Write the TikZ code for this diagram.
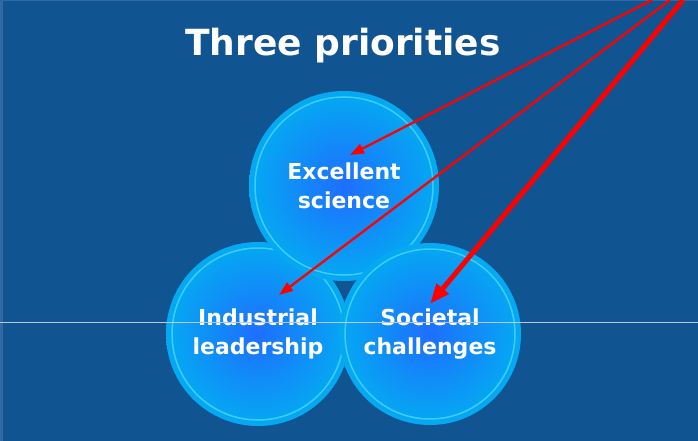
\documentclass[tikz,border=0pt]{standalone}
\usepackage{fontspec}
\setmainfont{DejaVu Sans}
\usetikzlibrary{arrows.meta,positioning}
\definecolor{prioback}{RGB}{16,84,146}
\definecolor{prioframe}{RGB}{50,105,165}
\definecolor{priocore}{RGB}{30,110,254}
\definecolor{prioedge}{RGB}{4,170,242}
\definecolor{prioring}{RGB}{60,205,252}
\definecolor{priored}{RGB}{255,0,0}
\definecolor{priorule}{RGB}{185,200,215}
\tikzset{
  prio circle/.style={
    circle,
    inner sep=0pt,
    shading=radial,
    inner color=priocore,
    outer color=prioedge,
    text=white,
    align=center,
    font=\bfseries\fontsize{22}{29}\selectfont,
  },
  prio ring/.style={
    draw=prioring,
    line width=1.5pt,
  },
  prio arrow/.style={
    -{Triangle[length=14pt,width=10pt]},
    line width=2.3pt,
    draw=priored,
  },
  prio big arrow/.style={
    -{Triangle[length=20pt,width=15pt]},
    line width=5pt,
    draw=priored,
  },
}

\begin{document}
\begin{tikzpicture}[x=1pt,y=-1pt]
  \fill[prioback] (0,0) rectangle (698,441);
  \useasboundingbox (0,0) rectangle (698,441);
  \fill[prioframe] (0,0) rectangle (3,441);
  \fill[prioframe] (0,0) rectangle (698,1.5);

  \node[text=white, font=\bfseries\fontsize{36}{40}\selectfont] (title) at (343,46) {Three priorities};

  % the three circles
  \node[prio circle, minimum size=184pt] (ind) at (258,334) {Industrial\\leadership};
  \draw[prio ring] (ind.center) circle (86);
  \node[prio circle, minimum size=190pt] (sci) at (344,186) {Excellent\\science};
  \draw[prio ring] (sci.center) circle (89);
  \node[prio circle, minimum size=182pt] (soc) at (430,334) {Societal\\challenges};
  \draw[prio ring] (soc.center) circle (85);

  % pointers from the corner
  \coordinate (src sci) at (652,0);
  \coordinate (src ind) at (670,0);
  \coordinate (src soc) at (683,0);
  \coordinate (tip sci) at (350,155);
  \coordinate (tip ind) at (279,295);
  \coordinate (tip soc) at (430,304);
  \draw[prio arrow] (src sci) -- (tip sci);
  \draw[prio arrow] (src ind) -- (tip ind);
  \draw[prio big arrow] (src soc) -- (tip soc);

  \draw[priorule, line width=0.8pt] (0,322) -- (698,322);
\end{tikzpicture}
\end{document}
